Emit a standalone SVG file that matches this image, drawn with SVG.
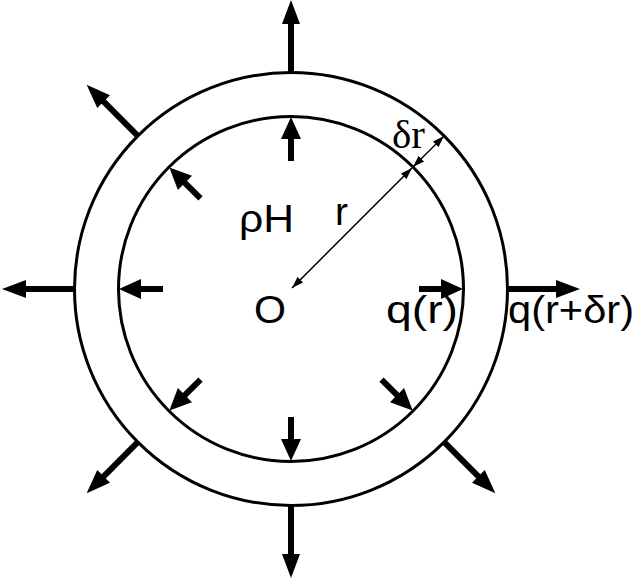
<svg xmlns="http://www.w3.org/2000/svg" xmlns:xlink="http://www.w3.org/1999/xlink" width="642" height="584" viewBox="0 0 642 584">
<style>
.ring{fill:none;stroke:#000;stroke-width:3}
.thin{fill:none;stroke:#000;stroke-width:1.5}
.lbl{font-family:"Liberation Sans",Arial,sans-serif;font-size:39px;fill:#000}
.ser{font-family:"Liberation Serif","Times New Roman",serif;font-size:41px;fill:#000}
</style>
<defs>
<g id="outArrow">
<rect x="-3" y="-268" width="6" height="52" fill="#000"/>
<polygon points="0,-289 9,-265 -9,-265" fill="#000"/>
</g>
<g id="inArrow">
<rect x="-3" y="-154" width="6" height="26" fill="#000"/>
<polygon points="0,-172 10,-150 -10,-150" fill="#000"/>
</g>
<marker id="ah" viewBox="0 0 12 8" refX="12" refY="4" markerWidth="12" markerHeight="8" markerUnits="userSpaceOnUse" orient="auto-start-reverse">
<path d="M0,0 L12,4 L0,8 z" fill="#000"/>
</marker>
</defs>
<g id="rings">
<circle id="outer" class="ring" cx="291" cy="289" r="216.5"/>
<circle id="inner" class="ring" cx="291" cy="289" r="172.5"/>
</g>
<g id="connectors">
<g id="outer-arrows" transform="translate(291,289)">
<use xlink:href="#outArrow" transform="rotate(0)"/>
<use xlink:href="#outArrow" transform="rotate(90)"/>
<use xlink:href="#outArrow" transform="rotate(135)"/>
<use xlink:href="#outArrow" transform="rotate(180)"/>
<use xlink:href="#outArrow" transform="rotate(225)"/>
<use xlink:href="#outArrow" transform="rotate(270)"/>
<use xlink:href="#outArrow" transform="rotate(315)"/>
</g>
<g id="inner-arrows" transform="translate(291,289)">
<use xlink:href="#inArrow" transform="rotate(0)"/>
<use xlink:href="#inArrow" transform="rotate(90)"/>
<use xlink:href="#inArrow" transform="rotate(135)"/>
<use xlink:href="#inArrow" transform="rotate(180)"/>
<use xlink:href="#inArrow" transform="rotate(225)"/>
<use xlink:href="#inArrow" transform="rotate(270)"/>
<use xlink:href="#inArrow" transform="rotate(315)"/>
</g>
<line id="radius" class="thin" x1="292" y1="288" x2="412" y2="168" marker-start="url(#ah)" marker-end="url(#ah)"/>
<line id="dr" class="thin" x1="413" y1="167" x2="444" y2="136" marker-start="url(#ah)" marker-end="url(#ah)"/>
</g>
<g id="labels">
<text class="ser" x="392" y="148">δr</text>
<text class="lbl" x="335" y="225">r</text>
<text class="lbl" x="239" y="232" textLength="55" lengthAdjust="spacingAndGlyphs">ρH</text>
<text class="lbl" x="254" y="323" textLength="32" lengthAdjust="spacingAndGlyphs">O</text>
<text class="lbl" x="386" y="323" textLength="72" lengthAdjust="spacingAndGlyphs">q(r)</text>
<text class="lbl" x="508" y="323" textLength="126" lengthAdjust="spacingAndGlyphs">q(r+δr)</text>
</g>
</svg>
